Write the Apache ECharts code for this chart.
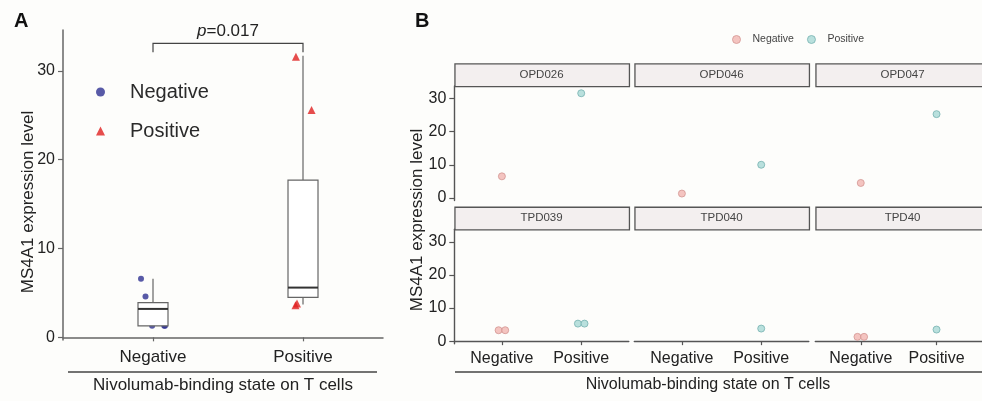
<!DOCTYPE html>
<html><head><meta charset="utf-8">
<script src="https://cdn.jsdelivr.net/npm/echarts@6/dist/echarts.min.js"></script>
<style>html,body{margin:0;padding:0;background:#fdfdfb}#c{width:982px;height:401px}</style>
</head><body><div id="c"></div>
<script>
// ---------- data ----------
const groups = ['Negative', 'Positive'];
const yTicks = [0, 10, 20, 30];
// Panel A: jittered points per group and box statistics
const aNegValues = [6.6, 4.6, 3.3, 3.3, 1.3, 1.3, 1.3];
const aNegJitter = [-0.08, -0.05, 0.03, -0.03, 0.075, 0.08, -0.006];
const aPosValues = [31.6, 25.6, 10.0, 5.3, 5.3, 3.8, 3.6];
const aPosJitter = [-0.047, 0.057, 0.02, -0.03, 0.04, -0.04, -0.05];
const aBoxMin = [1.3, 3.7];
const aBoxQ1 = [1.3, 4.5];
const aBoxMedian = [3.2, 5.6];
const aBoxQ3 = [3.9, 17.7];
const aBoxMax = [6.6, 31.7];
const bracketLevels = [33.1, 32.1];
const pValueText = '0.017';
// Panel B: facets
const facets = ['OPD026', 'OPD046', 'OPD047', 'TPD039', 'TPD040', 'TPD40'];
const bNeg = [[6.5], [1.3], [4.5], [3.3, 3.3], [], [1.3, 1.3]];
const bPos = [[31.6], [10.0], [25.3], [5.3, 5.3], [3.8], [3.5]];

// ---------- layout ----------
const FONT = '"Liberation Sans", Arial, sans-serif';
const gridA = { left: 63, top: 30, width: 320, height: 310 };
const colLeft = [454.3, 634.3, 815.3];
const colW = 174.5;
const rowTop = [86, 229.3];
const rowH = 114.5;
const stripH = 22.7;

const labelMap = v => (v === 1 ? groups[0] : v === 2 ? groups[1] : '');

const grids = [Object.assign({}, gridA)];
const xAxes = [{
  type: 'value', gridIndex: 0, min: 0.4, max: 2.5333,
  axisLine: { show: true, lineStyle: { color: '#666', width: 1.5 } },
  axisTick: { show: true, customValues: [1, 2], length: 4, lineStyle: { color: '#666', width: 1.2 } },
  axisLabel: { show: true, customValues: [1, 2], formatter: labelMap, fontFamily: FONT, fontSize: 17, color: '#222', margin: 9 },
  splitLine: { show: false }
}];
const yAxes = [{
  type: 'value', gridIndex: 0, min: -0.3, max: 34.6,
  axisLine: { show: true, lineStyle: { color: '#666', width: 1.5 } },
  axisTick: { show: true, customValues: yTicks, length: 5, lineStyle: { color: '#666', width: 1.2 } },
  axisLabel: { show: true, customValues: yTicks, fontFamily: FONT, fontSize: 16, color: '#222', margin: 8 },
  splitLine: { show: false }
}];

facets.forEach((f, i) => {
  const r = Math.floor(i / 3), c = i % 3;
  grids.push({ left: colLeft[c], top: rowTop[r], width: colW, height: rowH });
  const bottomRow = r === 1, leftCol = c === 0;
  xAxes.push({
    type: 'value', gridIndex: i + 1, min: 0.4, max: 2.6,
    axisLine: { show: bottomRow, lineStyle: { color: '#555', width: 1.4 } },
    axisTick: { show: bottomRow, customValues: [1, 2], length: 4, lineStyle: { color: '#555', width: 1.2 } },
    axisLabel: { show: bottomRow, customValues: [1, 2], formatter: labelMap, fontFamily: FONT, fontSize: 16, color: '#222', margin: 7 },
    splitLine: { show: false }
  });
  yAxes.push({
    type: 'value', gridIndex: i + 1, min: -0.8, max: 33.8,
    axisLine: { show: leftCol, lineStyle: { color: '#555', width: 1.4 } },
    axisTick: { show: leftCol, customValues: yTicks, length: 5, lineStyle: { color: '#555', width: 1.2 } },
    axisLabel: { show: leftCol, customValues: yTicks, fontFamily: FONT, fontSize: 16, color: '#222', margin: 8 },
    splitLine: { show: false }
  });
});

const series = [
  {
    name: 'Negative', type: 'scatter', xAxisIndex: 0, yAxisIndex: 0, z: 2,
    symbol: 'circle', symbolSize: 6, itemStyle: { color: '#2e3192' },
    data: aNegValues.map((v, i) => [1 + aNegJitter[i], v])
  },
  {
    name: 'Positive', type: 'scatter', xAxisIndex: 0, yAxisIndex: 0, z: 2,
    symbol: 'triangle', symbolSize: 8, itemStyle: { color: '#e02020' },
    data: aPosValues.map((v, i) => [2 + aPosJitter[i], v])
  },
  {
    name: 'box', type: 'custom', xAxisIndex: 0, yAxisIndex: 0, z: 3,
    data: groups.map((g, i) => [i + 1, aBoxMin[i], aBoxQ1[i], aBoxMedian[i], aBoxQ3[i], aBoxMax[i]]),
    encode: { x: 0, y: [1, 2, 3, 4, 5] },
    renderItem: function (params, api) {
      const x = api.value(0), mn = api.value(1), q1 = api.value(2), md = api.value(3), q3 = api.value(4), mx = api.value(5);
      const hw = 0.1;
      const tl = api.coord([x - hw, q3]), br = api.coord([x + hw, q1]);
      const ml = api.coord([x - hw, md]), mr = api.coord([x + hw, md]);
      const pMax = api.coord([x, mx]), pQ3 = api.coord([x, q3]), pQ1 = api.coord([x, q1]), pMin = api.coord([x, mn]);
      const st = { stroke: '#666', lineWidth: 1.2, fill: null };
      return {
        type: 'group', children: [
          { type: 'line', shape: { x1: pMax[0], y1: pMax[1], x2: pQ3[0], y2: pQ3[1] }, style: st },
          { type: 'line', shape: { x1: pQ1[0], y1: pQ1[1], x2: pMin[0], y2: pMin[1] }, style: st },
          { type: 'rect', shape: { x: tl[0], y: tl[1], width: br[0] - tl[0], height: br[1] - tl[1] }, style: { fill: '#fff', stroke: '#666', lineWidth: 1.2 } },
          { type: 'line', shape: { x1: ml[0], y1: ml[1], x2: mr[0], y2: mr[1] }, style: { stroke: '#333', lineWidth: 2 } }
        ]
      };
    }
  },
  {
    name: 'bracket', type: 'custom', xAxisIndex: 0, yAxisIndex: 0, z: 3, clip: false,
    data: [[1, 2, bracketLevels[0], bracketLevels[1]]],
    encode: { x: [0, 1], y: [2, 3] },
    renderItem: function (params, api) {
      const x1 = api.value(0), x2 = api.value(1), yt = api.value(2), yl = api.value(3);
      const a = api.coord([x1, yl]), b = api.coord([x1, yt]), c = api.coord([x2, yt]), d = api.coord([x2, yl]);
      return {
        type: 'group', children: [
          { type: 'polyline', shape: { points: [a, b, c, d] }, style: { stroke: '#444', lineWidth: 1.2, fill: null } },
          {
            type: 'text', x: (b[0] + c[0]) / 2, y: b[1] - 4,
            style: {
              text: '{i|p}{n|=' + pValueText + '}', align: 'center', verticalAlign: 'bottom',
              rich: {
                i: { fontFamily: FONT, fontSize: 17, fontStyle: 'italic', fill: '#222' },
                n: { fontFamily: FONT, fontSize: 17, fill: '#222' }
              }
            }
          }
        ]
      };
    }
  }
];

facets.forEach((f, i) => {
  const dodge = (arr, k) => [arr.length > 1 ? (k === 0 ? -3.3 : 3.3) : 0, 0];
  series.push({
    name: 'Negative', type: 'scatter', xAxisIndex: i + 1, yAxisIndex: i + 1,
    symbol: 'circle', symbolSize: 7,
    itemStyle: { color: '#f1b5b1', borderColor: '#d39692', borderWidth: 1 },
    data: bNeg[i].map((v, k, arr) => ({ value: [1, v], symbolOffset: dodge(arr, k) }))
  });
  series.push({
    name: 'Positive', type: 'scatter', xAxisIndex: i + 1, yAxisIndex: i + 1,
    symbol: 'circle', symbolSize: 7,
    itemStyle: { color: '#a7d8d6', borderColor: '#76b2b0', borderWidth: 1 },
    data: bPos[i].map((v, k, arr) => ({ value: [2, v], symbolOffset: dodge(arr, k) }))
  });
});

// strips, titles, panel letters
const graphic = [];
facets.forEach((f, i) => {
  const r = Math.floor(i / 3), c = i % 3;
  graphic.push({
    type: 'rect', left: colLeft[c], top: rowTop[r] - stripH,
    shape: { width: colW, height: stripH },
    style: { fill: '#f3efef', stroke: '#555', lineWidth: 1.3 }
  });
  graphic.push({
    type: 'text', x: colLeft[c] + colW / 2, y: rowTop[r] - stripH / 2,
    style: { text: f, fontFamily: FONT, fontSize: 11.5, fill: '#444', align: 'center', verticalAlign: 'middle' }
  });
});
graphic.push(
  { type: 'text', x: 14, y: 21, style: { text: 'A', fontFamily: FONT, fontSize: 20, fontWeight: 'bold', fill: '#111', verticalAlign: 'middle' } },
  { type: 'text', x: 415, y: 21, style: { text: 'B', fontFamily: FONT, fontSize: 20, fontWeight: 'bold', fill: '#111', verticalAlign: 'middle' } },
  { type: 'text', x: 28, y: 202, rotation: Math.PI / 2, style: { text: 'MS4A1 expression level', fontFamily: FONT, fontSize: 17, fill: '#222', align: 'center', verticalAlign: 'middle' } },
  { type: 'text', x: 417, y: 220, rotation: Math.PI / 2, style: { text: 'MS4A1 expression level', fontFamily: FONT, fontSize: 17, fill: '#222', align: 'center', verticalAlign: 'middle' } },
  { type: 'line', shape: { x1: 68, y1: 372, x2: 377, y2: 372 }, style: { stroke: '#444', lineWidth: 1.3 } },
  { type: 'line', shape: { x1: 455, y1: 372, x2: 990, y2: 372 }, style: { stroke: '#444', lineWidth: 1.3 } },
  { type: 'text', x: 223, y: 385, style: { text: 'Nivolumab-binding state on T cells', fontFamily: FONT, fontSize: 17, fill: '#222', align: 'center', verticalAlign: 'middle' } },
  { type: 'text', x: 708, y: 385, style: { text: 'Nivolumab-binding state on T cells', fontFamily: FONT, fontSize: 16, fill: '#222', align: 'center', verticalAlign: 'middle' } }
);

const chart = echarts.init(document.getElementById('c'), null, { renderer: 'canvas' });
chart.setOption({
  animation: false,
  backgroundColor: '#fdfdfb',
  grid: grids,
  xAxis: xAxes,
  yAxis: yAxes,
  legend: [
    {
      orient: 'vertical', left: 91, top: 77, itemGap: 19, itemWidth: 9, itemHeight: 9,
      selectedMode: false,
      textStyle: { fontFamily: FONT, fontSize: 20, color: '#2a2a2a', padding: [0, 0, 0, 20], lineHeight: 20 },
      data: [
        { name: 'Negative', icon: 'circle', itemStyle: { color: '#2e3192', borderWidth: 0 } },
        { name: 'Positive', icon: 'triangle', itemStyle: { color: '#e02020', borderWidth: 0 } }
      ]
    },
    {
      orient: 'horizontal', left: 727, top: 29, itemGap: 13, itemWidth: 8, itemHeight: 8,
      selectedMode: false,
      textStyle: { fontFamily: FONT, fontSize: 10.5, color: '#444', padding: [0, 0, 0, 7] },
      data: [
        { name: 'Negative', icon: 'circle', itemStyle: { color: '#f1b5b1', borderColor: '#d39692', borderWidth: 1 } },
        { name: 'Positive', icon: 'circle', itemStyle: { color: '#a7d8d6', borderColor: '#76b2b0', borderWidth: 1 } }
      ]
    }
  ],
  graphic: graphic,
  series: series
});
</script>
</body></html>
